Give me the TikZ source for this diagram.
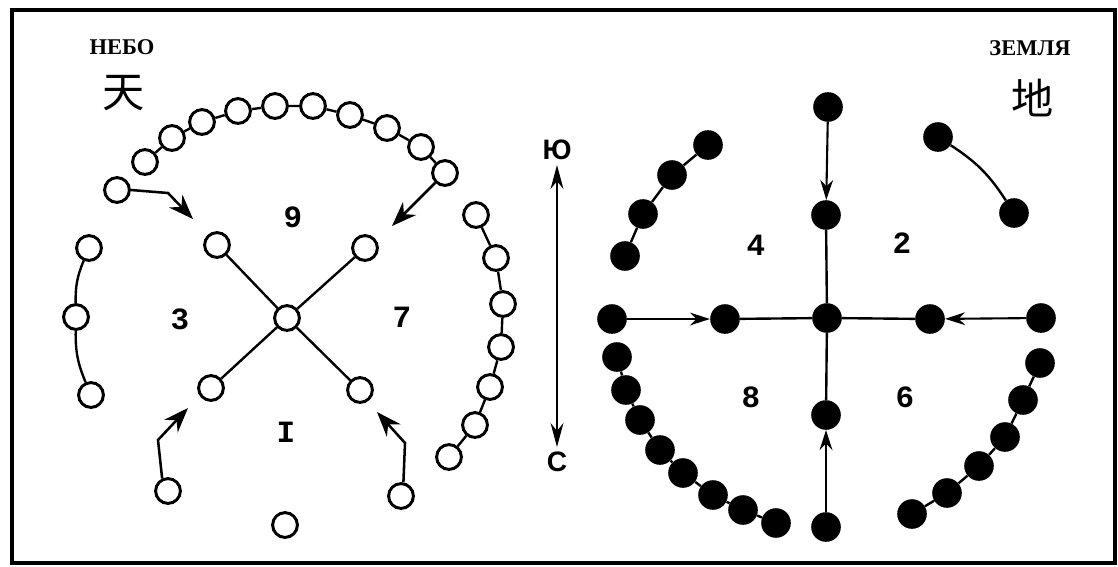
\documentclass[tikz,border=0pt]{standalone}
\usepackage{fontspec}
\setmainfont{Liberation Serif}
\newfontfamily\cjkfont{Noto Sans CJK SC}
\newfontfamily\digitfont{Liberation Mono}
\newfontfamily\dirfont{Liberation Sans}
\usetikzlibrary{arrows.meta}
\tikzset{
	hole/.style={circle,draw,line width=2.1pt,minimum size=0.62cm,inner sep=0pt},
	bead/.style={circle,fill,minimum size=0.74cm,inner sep=0pt},
	link/.style={line width=1.7pt},
	arr/.style={line width=1.8pt,-{Stealth[length=0.62cm,width=0.46cm]}},
	arrin/.style={line width=1.5pt,-{Stealth[length=0.5cm,width=0.32cm]}},
	num/.style={font=\digitfont\bfseries\fontsize{22}{22}\selectfont},
	title/.style={font=\bfseries\fontsize{16}{16}\selectfont},
	glyph/.style={font=\cjkfont\fontsize{30}{30}\selectfont},
}
\begin{document}
\begin{tikzpicture}[x=0.025cm,y=-0.025cm]
			\useasboundingbox (0,0) rectangle (1118,566);
			\draw[line width=2.3pt] (12,10) rectangle (1115,563); %frame
			% sky
			\node[title] (sky) at (122,47) {НЕБО};
			\node[glyph] (tian) at (124,93) {天};
			\node[hole] (t1) at (145,162) {};
			\node[hole] (t2) at (172,138) {};
			\node[hole] (t3) at (202,122) {};
			\node[hole] (t4) at (238,111) {};
			\node[hole] (t5) at (275,106) {};
			\node[hole] (t6) at (313,106) {};
			\node[hole] (t7) at (350,115) {};
			\node[hole] (t8) at (387,128) {};
			\node[hole] (t9) at (421,147) {};
			\node[hole] (t10) at (445,173) {};
			\draw[link] (t1) -- (t2) -- (t3) -- (t4) -- (t5) -- (t6) -- (t7) -- (t8) -- (t9) -- (t10);
			\node[hole] (s1) at (117,190) {};
			\coordinate (bendA) at (168,193);
			\coordinate (tipA) at (193,219);
			\coordinate (tipB) at (392,226);
			\draw[arr] (s1.east) -- (bendA) -- (tipA);
			\draw[arr] (t10) -- (tipB);
			\node[num] (n9) at (293,217) {9};
			\node[hole] (x1) at (217,245) {};
			\node[hole] (x2) at (365,248) {};
			\node[hole] (x0) at (287,318) {};
			\node[hole] (x3) at (211,388) {};
			\node[hole] (x4) at (360,390) {};
			\draw[link] (x1) -- (x0);
			\draw[link] (x2) -- (x0);
			\draw[link] (x3) -- (x0);
			\draw[link] (x4) -- (x0);
			\node[num] (n3) at (180,319) {3};
			\node[num] (n7) at (402,317) {7};
			\node[num] (n1) at (286,432) {I};
			\node[hole] (l1) at (89,248) {};
			\node[hole] (l2) at (76,317) {};
			\node[hole] (l3) at (91,395) {};
			\draw[link] (l1) to[bend right=12] (l2);
			\draw[link] (l2) to[bend right=12] (l3);
			\node[hole] (r1) at (476,215) {};
			\node[hole] (r2) at (496,258) {};
			\node[hole] (r3) at (503,304) {};
			\node[hole] (r4) at (501,347) {};
			\node[hole] (r5) at (490,387) {};
			\node[hole] (r6) at (475,425) {};
			\node[hole] (r7) at (449,457) {};
			\draw[link] (r1) -- (r2) -- (r3) -- (r4) -- (r5) -- (r6) -- (r7);
			\node[hole] (b1) at (168,491) {};
			\node[hole] (b2) at (401,496) {};
			\node[hole] (b0) at (285,525) {};
			\coordinate (bendC) at (158,440);
			\coordinate (tipC) at (188,408);
			\coordinate (bendD) at (405,443);
			\coordinate (tipD) at (377,412);
			\draw[arr] (b1.115) -- (bendC) -- (tipC);
			\draw[arr] (b2.80) -- (bendD) -- (tipD);
			% south / north
			\node[font=\dirfont\bfseries\fontsize{20}{20}\selectfont] (yu) at (557,150) {Ю};
			\node[font=\dirfont\bfseries\fontsize{20}{20}\selectfont] (se) at (557,462) {С};
			\draw[line width=1.5pt,{Stealth[length=0.6cm,width=0.32cm]}-{Stealth[length=0.6cm,width=0.32cm]}] (yu) -- (se);
			% earth
			\node[title] (earth) at (1030,48) {ЗЕМЛЯ};
			\node[glyph] (di) at (1033,98) {地};
			\node[bead] (v1) at (828,107) {};
			\node[bead] (v2) at (826,215) {};
			\node[bead] (c0) at (827,318) {};
			\node[bead] (v4) at (826,415) {};
			\node[bead] (v5) at (826,527) {};
			\node[bead] (h1) at (612,319) {};
			\node[bead] (h2) at (725,319) {};
			\node[bead] (h4) at (930,319) {};
			\node[bead] (h5) at (1041,318) {};
			\draw[arrin] (v1) -- (v2);
			\draw[link] (v2) -- (c0) -- (v4);
			\draw[arrin] (v5) -- (v4);
			\draw[arrin] (h1) -- (h2);
			\draw[link] (h2) -- (c0) -- (h4);
			\draw[arrin] (h5) -- (h4);
			\node[num] (n4) at (756,245) {4};
			\node[num] (n2) at (902,243) {2};
			\node[num] (n8) at (751,397) {8};
			\node[num] (n6) at (905,397) {6};
			\node[bead] (p1) at (625,256) {};
			\node[bead] (p2) at (643,214) {};
			\node[bead] (p3) at (672,175) {};
			\node[bead] (p4) at (708,145) {};
			\draw[link] (p1) -- (p2) -- (p3) -- (p4);
			\node[bead] (q1) at (938,137) {};
			\node[bead] (q2) at (1014,213) {};
			\draw[link] (q1) to[bend left=12] (q2);
			\node[bead] (w1) at (617,357) {};
			\node[bead] (w2) at (626,390) {};
			\node[bead] (w3) at (640,420) {};
			\node[bead] (w4) at (660,450) {};
			\node[bead] (w5) at (683,473) {};
			\node[bead] (w6) at (713,495) {};
			\node[bead] (w7) at (743,510) {};
			\node[bead] (w8) at (776,523) {};
			\draw[link] (w1) -- (w2) -- (w3) -- (w4) -- (w5) -- (w6) -- (w7) -- (w8);
			\node[bead] (e1) at (1040,363) {};
			\node[bead] (e2) at (1023,400) {};
			\node[bead] (e3) at (1005,437) {};
			\node[bead] (e4) at (979,466) {};
			\node[bead] (e5) at (947,493) {};
			\node[bead] (e6) at (912,514) {};
			\draw[link] (e1) -- (e2) -- (e3) -- (e4) -- (e5) -- (e6);
		\end{tikzpicture}
\end{document}
